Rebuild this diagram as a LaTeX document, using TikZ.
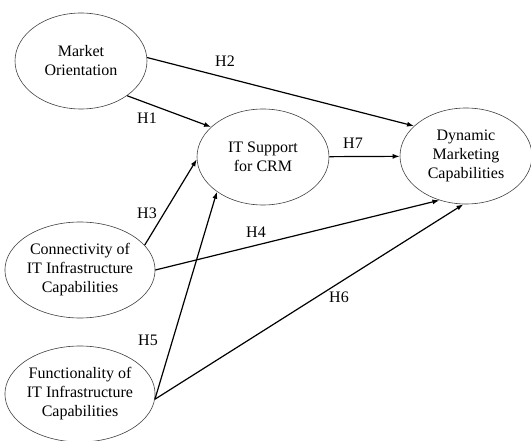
\documentclass[tikz,border=0pt]{standalone}
\usepackage{fontspec}
\setmainfont{Liberation Serif}
\usetikzlibrary{shapes.geometric,arrows.meta}

\tikzset{
  construct/.style={ellipse,draw=black!75,line width=0.6pt,minimum width=132pt,
    minimum height=96pt,inner sep=0pt,align=center,
    font=\fontsize{16}{19}\selectfont},
  hyp/.style={font=\fontsize{16}{19}\selectfont,inner sep=1pt},
  path/.style={line width=1.2pt,-{Latex[length=7pt,width=5pt]}}
}

\begin{document}
\begin{tikzpicture}[x=1pt,y=-1pt]
    \useasboundingbox (0,0) rectangle (531,441);
    \node [construct] (mo) at (81,61) {Market\\Orientation};
    \node [construct] (its) at (263,157) {IT Support\\for CRM};
    \node [construct] (dmc) at (466,156) {Dynamic\\Marketing\\Capabilities};
    \node [construct] (conn) at (80,270) {Connectivity of\\IT Infrastructure\\Capabilities};
    \node [construct] (func) at (80,394) {Functionality of\\IT Infrastructure\\Capabilities};
    \draw [path] (mo.3) -- (dmc.150);
    \draw [path] (mo.-37) -- (its.150);
    \draw [path] (its) -- (dmc);
    \draw [path] (conn.21) -- (its.182);
    \draw [path] (conn.east) -- (dmc.-121);
    \draw [path] (func.-4) -- (its.217);
    \draw [path] (func.-4) -- (dmc.-93);
    \node [hyp] (h1) at (147,118) {H1};
    \node [hyp] (h2) at (225,61) {H2};
    \node [hyp] (h3) at (147,213) {H3};
    \node [hyp] (h4) at (256,232) {H4};
    \node [hyp] (h5) at (148,340) {H5};
    \node [hyp] (h6) at (339,297) {H6};
    \node [hyp] (h7) at (353,143) {H7};
\end{tikzpicture}
\end{document}
